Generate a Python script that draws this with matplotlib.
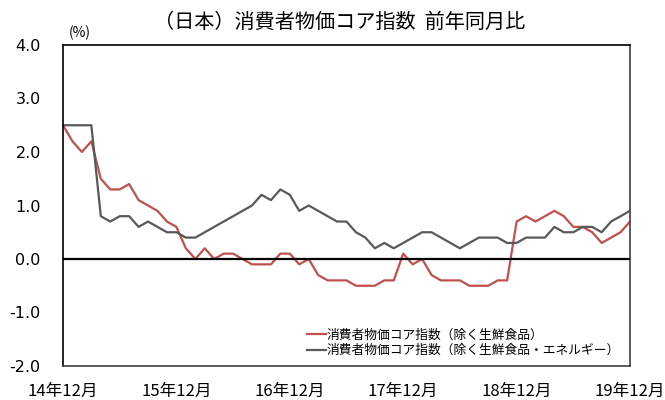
import matplotlib
matplotlib.use("Agg")
import matplotlib.pyplot as plt
import numpy as np

plt.rcParams['font.family'] = ['Noto Sans CJK JP', 'DejaVu Sans']

# monthly, 14年12月 .. 19年12月
tick_labels = ["14年12月", "15年12月", "16年12月", "17年12月", "18年12月", "19年12月"]

core = [2.5, 2.2, 2.0, 2.2, 1.5, 1.3, 1.3, 1.4, 1.1, 1.0, 0.9, 0.7, 0.6,
        0.2, 0.0, 0.2, 0.0, 0.1, 0.1, 0.0, -0.1, -0.1,
        -0.1, 0.1, 0.1, -0.1, 0.0, -0.3, -0.4, -0.4, -0.4, -0.5, -0.5, -0.5,
        -0.4, -0.4, 0.1, -0.1, 0.0, -0.3, -0.4,
        -0.4, -0.4, -0.5, -0.5, -0.5, -0.4, -0.4, 0.7, 0.8, 0.7, 0.8, 0.9,
        0.8, 0.6, 0.6, 0.5, 0.3, 0.4, 0.5, 0.7]

core_core = [2.5, 2.5, 2.5, 2.5, 0.8, 0.7, 0.8, 0.8, 0.6, 0.7, 0.6, 0.5, 0.5,
             0.4, 0.4, 0.5, 0.6, 0.7, 0.8, 0.9, 1.0, 1.2,
             1.1, 1.3, 1.2, 0.9, 1.0, 0.9, 0.8, 0.7, 0.7, 0.5, 0.4, 0.2, 0.3,
             0.2, 0.3, 0.4, 0.5, 0.5, 0.4,
             0.3, 0.2, 0.3, 0.4, 0.4, 0.4, 0.3, 0.3, 0.4, 0.4, 0.4, 0.6, 0.5,
             0.5, 0.6, 0.6, 0.5, 0.7, 0.8, 0.9]

labels = ["消費者物価コア指数（除く生鮮食品）",
          "消費者物価コア指数（除く生鮮食品・エネルギー）"]

months = np.arange(len(core))

fig = plt.figure(figsize=(6.65, 4.0), dpi=100)
ax = fig.add_axes([63 / 665, 1 - 366 / 400, 567 / 665, 321 / 400])

ax.plot(months, core, color="#C0504D", lw=1.6, label=labels[0])
ax.plot(months, core_core, color="#595959", lw=1.6, label=labels[1])
ax.axhline(0, color="black", lw=1.6, zorder=3)

ax.set_xlim(0, 60)
ax.set_ylim(-2, 4)
ax.set_xticks(np.arange(0, 61, 12))
ax.set_xticklabels(tick_labels, fontsize=12)
ax.set_yticks(np.arange(-2, 4.1, 1))
ax.set_yticklabels([f"{v:.1f}" for v in np.arange(-2, 4.1, 1)],
                   fontsize=11.5, family="DejaVu Sans")
ax.tick_params(axis="x", length=0, pad=12)
ax.tick_params(axis="y", length=0, pad=16)

for side in ["left", "top"]:
    ax.spines[side].set_color("black")
for side in ["right", "bottom"]:
    ax.spines[side].set_color("#404040")
for s in ax.spines.values():
    s.set_linewidth(1.2)

ax.legend(loc="lower left", bbox_to_anchor=(0.415, 0.0), frameon=False,
          fontsize=9.2, handlelength=1.5, handletextpad=0.0,
          labelspacing=0.2, borderaxespad=0.3)

fig.text(340 / 665, 1 - 22 / 400, "（日本）消費者物価コア指数  前年同月比",
         fontsize=14.5, ha="center", va="center")
fig.text(80 / 665, 1 - 33 / 400, "(%)", fontsize=10, ha="center", va="center")

fig.savefig("out.png", dpi=100)
